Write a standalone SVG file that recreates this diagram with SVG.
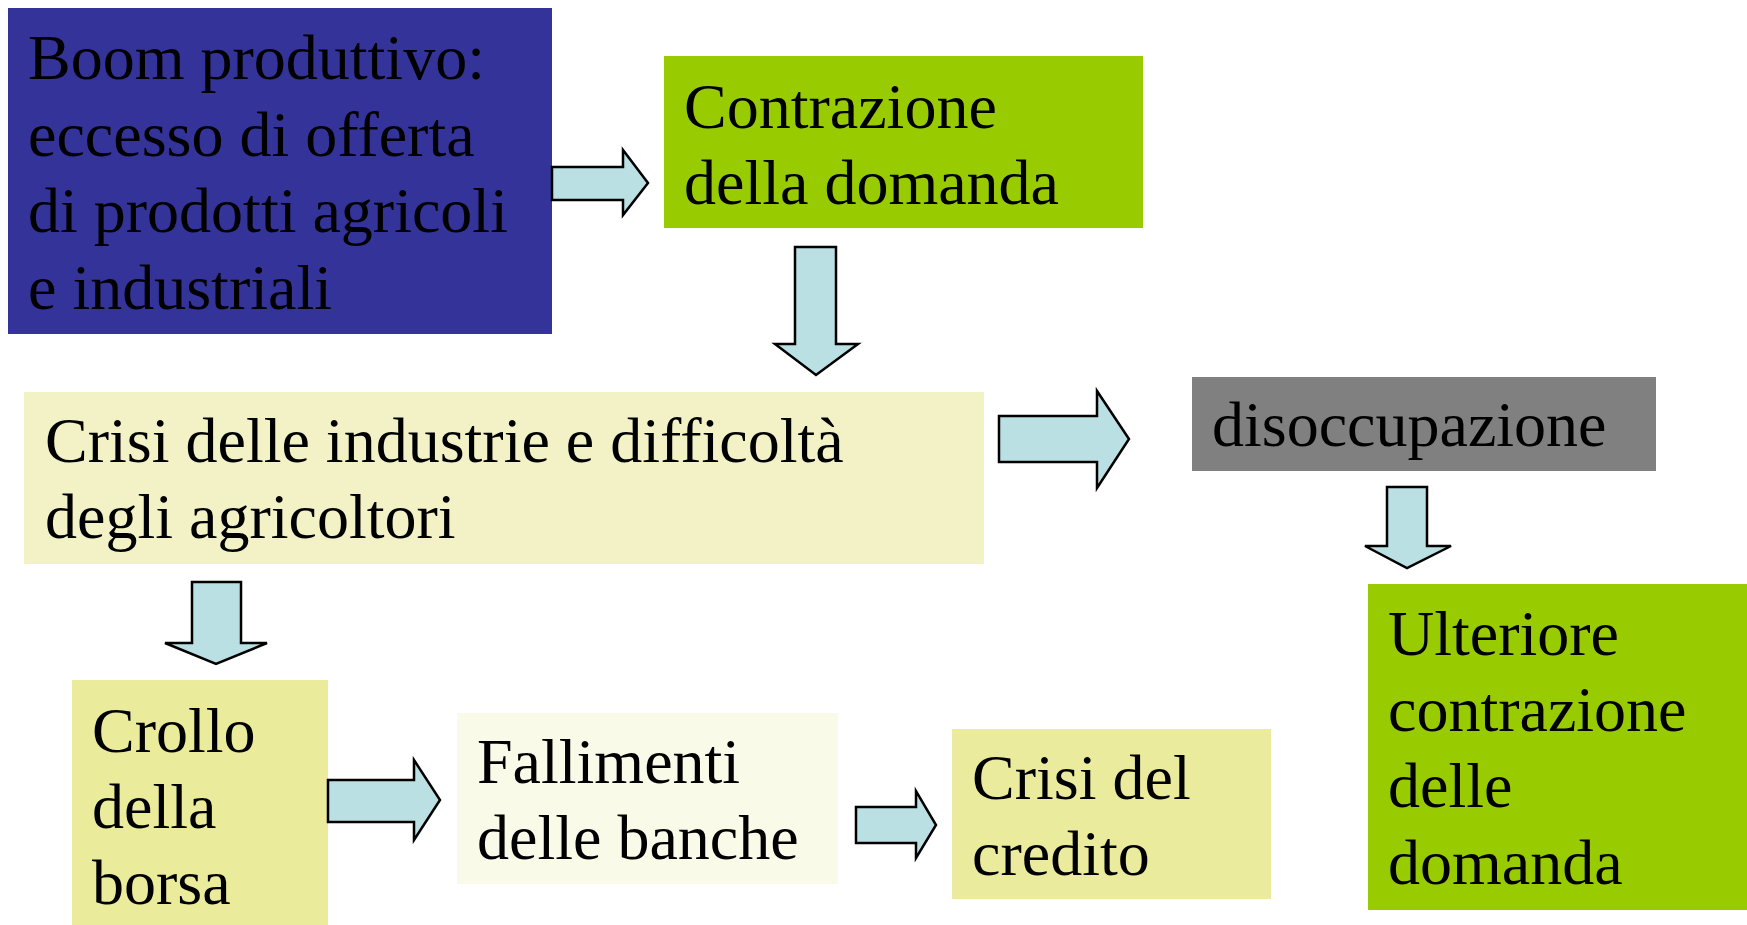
<svg xmlns="http://www.w3.org/2000/svg" width="1747" height="925" viewBox="0 0 1747 925">
<style>
text{font-family:"Liberation Serif","Times New Roman",serif;font-size:64px;fill:#000}
.arr{fill:#BBE0E3;stroke:#000;stroke-width:2.5;stroke-linejoin:miter}
</style>
<rect width="1747" height="925" fill="#fff"/>
<g id="boom">
<rect x="8" y="8" width="544" height="326" fill="#333399"/>
<text x="28" y="79">Boom produttivo:</text>
<text x="28" y="156">eccesso di offerta</text>
<text x="28" y="232">di prodotti agricoli</text>
<text x="28" y="309">e industriali</text>
</g>
<g id="contrazione">
<rect x="664" y="56" width="479" height="172" fill="#99CC00"/>
<text x="684" y="128">Contrazione</text>
<text x="684" y="204">della domanda</text>
</g>
<g id="crisi">
<rect x="24" y="392" width="960" height="172" fill="#F2F2C6"/>
<text x="45" y="462">Crisi delle industrie e difficoltà</text>
<text x="45" y="538">degli agricoltori</text>
</g>
<g id="disoccupazione">
<rect x="1192" y="377" width="464" height="94" fill="#808080"/>
<text x="1212" y="446">disoccupazione</text>
</g>
<g id="ulteriore">
<rect x="1368" y="584" width="379" height="326" fill="#99CC00"/>
<text x="1388" y="655">Ulteriore</text>
<text x="1388" y="731">contrazione</text>
<text x="1388" y="807">delle</text>
<text x="1388" y="884">domanda</text>
</g>
<g id="crollo">
<rect x="72" y="680" width="256" height="245" fill="#EBEB9C"/>
<text x="92" y="752">Crollo</text>
<text x="92" y="828">della</text>
<text x="92" y="904">borsa</text>
</g>
<g id="fallimenti">
<rect x="457" y="713" width="381" height="171" fill="#F9FAE8"/>
<text x="477" y="783">Fallimenti</text>
<text x="477" y="859">delle banche</text>
</g>
<g id="credito">
<rect x="952" y="729" width="319" height="170" fill="#EBEB9E"/>
<text x="972" y="799">Crisi del</text>
<text x="972" y="875">credito</text>
</g>
<g id="connectors">
<path class="arr" d="M552,167 H623 V150 L648,183 L623,215 V200 H552 Z"/>
<path class="arr" d="M795,247 H836 V344 H858 L816,375 L775,344 H795 Z"/>
<path class="arr" d="M999,416 H1097 V391 L1129,439 L1097,488 V462 H999 Z"/>
<path class="arr" d="M1387,487 H1427 V546 H1451 L1407,568 L1365,546 H1387 Z"/>
<path class="arr" d="M192,582 H241 V643 H267 L216,664 L165,643 H192 Z"/>
<path class="arr" d="M328,780 H414 V760 L440,800 L414,840 V822 H328 Z"/>
<path class="arr" d="M856,807 H916 V791 L936,825 L916,858 V843 H856 Z"/>
</g>
</svg>
